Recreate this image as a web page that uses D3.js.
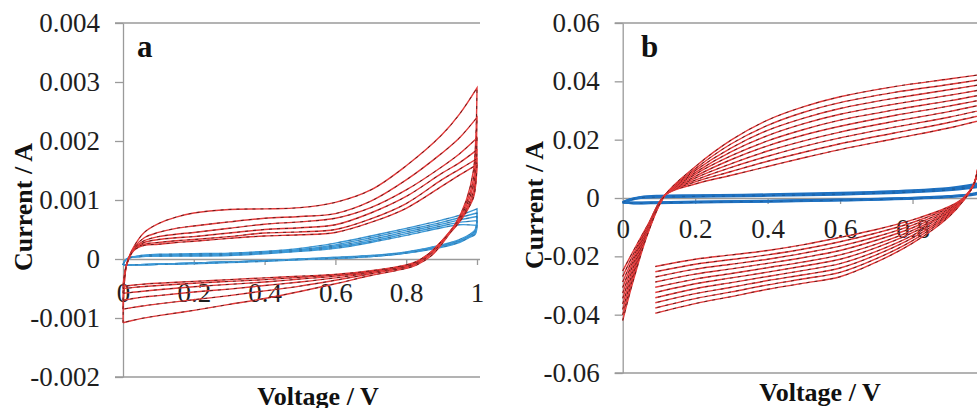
<!DOCTYPE html>
<html><head><meta charset="utf-8">
<script src="https://cdn.jsdelivr.net/npm/d3@7"></script>
<style>body{margin:0;background:#fff;overflow:hidden}</style>
</head><body><svg id="c" width="977" height="408"></svg>
<script>
// ---------- Panel a (currents in mA) ----------
const aYTicks = [-0.002, -0.001, 0, 0.001, 0.002, 0.003, 0.004];
const aYLabels = ["-0.002", "-0.001", "0", "0.001", "0.002", "0.003", "0.004"];
const aVoltFwd = [0, 0.01, 0.03, 0.06, 0.1, 0.15, 0.2, 0.3, 0.4, 0.5, 0.6, 0.7, 0.8, 0.9, 0.95, 1.0];
const aRedFwd = [
  [-1.08, -0.1, 0.2, 0.45, 0.6, 0.71, 0.78, 0.84, 0.85, 0.87, 0.96, 1.17, 1.58, 2.1, 2.45, 2.9],
  [-0.85, -0.1, 0.18, 0.36, 0.45, 0.52, 0.56, 0.63, 0.69, 0.72, 0.77, 0.98, 1.34, 1.79, 2.05, 2.4],
  [-0.70, -0.1, 0.17, 0.31, 0.38, 0.42, 0.45, 0.52, 0.59, 0.63, 0.69, 0.87, 1.17, 1.56, 1.78, 2.05],
  [-0.58, -0.1, 0.16, 0.28, 0.33, 0.36, 0.38, 0.44, 0.50, 0.53, 0.58, 0.78, 1.06, 1.45, 1.63, 1.85],
  [-0.50, -0.1, 0.15, 0.25, 0.28, 0.31, 0.33, 0.38, 0.44, 0.46, 0.50, 0.68, 0.94, 1.34, 1.52, 1.7],
  [-0.46, -0.1, 0.14, 0.23, 0.25, 0.28, 0.30, 0.35, 0.39, 0.41, 0.45, 0.62, 0.86, 1.23, 1.42, 1.6]
];
const aVoltRev = [1.0, 0.997, 0.99, 0.97, 0.94, 0.9, 0.87, 0.83, 0.8, 0.7, 0.6, 0.5, 0.4, 0.3, 0.2, 0.1, 0.05, 0.02, 0];
const aRedRev = [
  [2.9, 2.1, 1.5, 1.0, 0.6, 0.25, 0.05, -0.1, -0.16, -0.28, -0.42, -0.55, -0.67, -0.77, -0.87, -0.96, -1.01, -1.05, -1.08],
  [2.4, 1.8, 1.35, 0.95, 0.6, 0.28, 0.08, -0.08, -0.14, -0.25, -0.36, -0.46, -0.54, -0.62, -0.69, -0.76, -0.8, -0.83, -0.85],
  [2.05, 1.6, 1.25, 0.9, 0.6, 0.3, 0.1, -0.07, -0.13, -0.23, -0.32, -0.39, -0.45, -0.51, -0.56, -0.62, -0.65, -0.68, -0.70],
  [1.85, 1.45, 1.15, 0.85, 0.58, 0.3, 0.11, -0.06, -0.12, -0.22, -0.29, -0.34, -0.39, -0.43, -0.47, -0.52, -0.55, -0.57, -0.58],
  [1.7, 1.35, 1.08, 0.82, 0.56, 0.3, 0.12, -0.05, -0.11, -0.21, -0.27, -0.31, -0.35, -0.38, -0.41, -0.45, -0.47, -0.49, -0.50],
  [1.6, 1.3, 1.04, 0.8, 0.55, 0.3, 0.12, -0.04, -0.1, -0.2, -0.26, -0.29, -0.32, -0.35, -0.38, -0.41, -0.43, -0.45, -0.46]
];
const aBlueVoltFwd = [0, 0.01, 0.05, 0.1, 0.2, 0.3, 0.4, 0.5, 0.6, 0.7, 0.8, 0.9, 0.95, 1.0];
const aBlueFwd = [
  [-0.1, 0.0, 0.06, 0.08, 0.09, 0.1, 0.13, 0.18, 0.27, 0.39, 0.52, 0.66, 0.74, 0.85],
  [-0.1, 0.0, 0.05, 0.07, 0.08, 0.09, 0.12, 0.16, 0.24, 0.36, 0.49, 0.62, 0.70, 0.78],
  [-0.1, 0.0, 0.05, 0.06, 0.07, 0.08, 0.11, 0.15, 0.22, 0.33, 0.46, 0.59, 0.66, 0.72],
  [-0.1, 0.0, 0.04, 0.05, 0.06, 0.07, 0.10, 0.14, 0.20, 0.30, 0.43, 0.56, 0.62, 0.65],
  [-0.1, 0.0, 0.04, 0.05, 0.05, 0.06, 0.09, 0.13, 0.18, 0.28, 0.40, 0.53, 0.58, 0.57]
];
const aBlueVoltRev = [1.0, 0.995, 0.98, 0.95, 0.9, 0.8, 0.7, 0.6, 0.5, 0.4, 0.3, 0.2, 0.1, 0.02, 0];
const aBlueRev = [
  [0.85, 0.5, 0.42, 0.33, 0.24, 0.12, 0.06, 0.03, 0.0, -0.03, -0.05, -0.07, -0.09, -0.1, -0.1],
  [0.78, 0.48, 0.4, 0.31, 0.23, 0.11, 0.05, 0.02, 0.0, -0.03, -0.05, -0.07, -0.09, -0.1, -0.1],
  [0.72, 0.46, 0.39, 0.3, 0.22, 0.11, 0.05, 0.02, -0.01, -0.03, -0.05, -0.07, -0.09, -0.1, -0.1],
  [0.65, 0.44, 0.38, 0.29, 0.21, 0.1, 0.04, 0.01, -0.01, -0.03, -0.05, -0.07, -0.09, -0.1, -0.1],
  [0.57, 0.42, 0.37, 0.28, 0.2, 0.1, 0.04, 0.01, -0.01, -0.04, -0.06, -0.08, -0.09, -0.1, -0.1]
];

// ---------- Panel b (currents in mA) ----------
const bYTicks = [-0.06, -0.04, -0.02, 0, 0.02, 0.04, 0.06];
const bYLabels = ["-0.06", "-0.04", "-0.02", "0", "0.02", "0.04", "0.06"];
const bVoltFwd = [0, 0.03, 0.07, 0.117, 0.2, 0.3, 0.4, 0.5, 0.6, 0.75, 0.9, 1.0];
const bRedFwd = [
  [-25, -18, -9, 1, 4.8, 7.8, 10.8, 13.8, 16.6, 20.3, 24, 27],
  [-26.9, -19.1, -9.3, 1, 5.5, 9.1, 12.6, 15.7, 18.6, 22.3, 25.9, 28.7],
  [-28.8, -20.2, -9.7, 1, 6.1, 10.5, 14.3, 17.7, 20.6, 24.3, 27.7, 30.4],
  [-30.7, -21.3, -10, 1, 6.8, 11.8, 16.1, 19.6, 22.6, 26.3, 29.6, 32.2],
  [-32.6, -22.4, -10.3, 1, 7.4, 13.2, 17.9, 21.6, 24.6, 28.3, 31.5, 33.9],
  [-34.4, -23.6, -10.7, 1, 8.1, 14.5, 19.6, 23.5, 26.7, 30.2, 33.3, 35.6],
  [-36.3, -24.7, -11, 1, 8.7, 15.9, 21.4, 25.5, 28.7, 32.2, 35.2, 37.3],
  [-38.2, -25.8, -11.3, 1, 9.4, 17.2, 23.2, 27.4, 30.7, 34.2, 37.1, 39.1],
  [-40.1, -26.9, -11.7, 1, 10.0, 18.6, 24.9, 29.4, 32.7, 36.2, 38.9, 40.8],
  [-42, -28, -12, 1, 10.7, 19.9, 26.7, 31.3, 34.7, 38.2, 40.8, 42.5]
];
const bVoltRev = [1.0, 0.99, 0.97, 0.94, 0.9, 0.8, 0.7, 0.6, 0.5, 0.4, 0.3, 0.2, 0.09];
const bRedRev = [
  [27, 15, 5, 0, -3, -7.5, -10.8, -13.5, -16, -18, -19.5, -21, -23.5],
  [28.7, 15.6, 5, -0.1, -3.4, -8.4, -12.0, -15.0, -17.5, -19.5, -21.1, -22.7, -25.3],
  [30.4, 16.1, 5, -0.2, -3.8, -9.3, -13.3, -16.5, -18.9, -21.0, -22.7, -24.4, -27.1],
  [32.2, 16.7, 5, -0.3, -4.2, -10.2, -14.5, -18.0, -20.4, -22.4, -24.3, -26.1, -28.8],
  [33.9, 17.2, 5, -0.4, -4.6, -11.1, -15.8, -19.5, -21.9, -23.9, -25.9, -27.8, -30.6],
  [35.6, 17.8, 5, -0.6, -4.9, -11.9, -17.0, -21.0, -23.3, -25.4, -27.4, -29.4, -32.4],
  [37.3, 18.3, 5, -0.7, -5.3, -12.8, -18.3, -22.5, -24.8, -26.9, -29.0, -31.1, -34.2],
  [39.1, 18.9, 5, -0.8, -5.7, -13.7, -19.5, -24.0, -26.3, -28.3, -30.6, -32.8, -35.9],
  [40.8, 19.4, 5, -0.9, -6.1, -14.6, -20.8, -25.5, -27.7, -29.8, -32.2, -34.5, -37.7],
  [42.5, 20, 5, -1, -6.5, -15.5, -22, -27, -29.2, -31.3, -33.8, -36.2, -39.5]
];
const bBlueVoltFwd = [0, 0.02, 0.05, 0.1, 0.2, 0.4, 0.6, 0.8, 0.9, 0.95, 1.0];
const bBlueFwd = [
  [-1.5, -0.5, 0.3, 0.7, 0.9, 1.2, 1.7, 2.6, 3.4, 4.2, 5.5],
  [-1.5, -0.6, 0.2, 0.5, 0.7, 1.0, 1.5, 2.3, 3.1, 3.8, 4.8],
  [-1.5, -0.7, 0.1, 0.3, 0.5, 0.8, 1.2, 2.0, 2.7, 3.3, 4.2]
];
const bBlueVoltRev = [1.0, 0.99, 0.97, 0.9, 0.8, 0.6, 0.4, 0.2, 0.1, 0.03, 0];
const bBlueRev = [
  [5.5, 2.5, 1.5, 0.6, 0.0, -0.6, -1.0, -1.3, -1.5, -1.6, -1.5],
  [4.8, 2.3, 1.4, 0.5, -0.1, -0.7, -1.1, -1.4, -1.6, -1.7, -1.5],
  [4.2, 2.0, 1.2, 0.4, -0.2, -0.8, -1.2, -1.5, -1.7, -1.8, -1.5]
];

const xTicks = [0, 0.2, 0.4, 0.6, 0.8, 1];
const xLabels = ["0", "0.2", "0.4", "0.6", "0.8", "1"];

const SERIF = "'Liberation Serif','Times New Roman',serif";
const svg = d3.select("#c");

function loop(vf, f, vr, r) {
  const pts = vf.map((v, i) => [v, f[i] / 1000]);
  return pts.concat(vr.map((v, i) => [v, r[i] / 1000]));
}

function panel(cfg) {
  const x = d3.scaleLinear().domain([0, 1]).range(cfg.xr);
  const y = d3.scaleLinear().domain(cfg.yd).range(cfg.yr);
  const g = svg.append("g");
  const axisColor = "#9a9a9a";

  // frame lines (top & bottom)
  [cfg.yd[0], cfg.yd[1]].forEach(v => {
    g.append("line").attr("x1", cfg.xr[0] - 8).attr("x2", cfg.right)
      .attr("y1", y(v)).attr("y2", y(v)).attr("stroke", axisColor).attr("stroke-width", 1.3);
  });

  const yAxis = g.append("g").attr("transform", `translate(${cfg.xr[0]},0)`)
    .call(d3.axisLeft(y).tickValues(cfg.yTicks).tickFormat((d, i) => cfg.yLabels[i])
      .tickSize(8).tickSizeOuter(0).tickPadding(cfg.yPad));
  yAxis.selectAll("path,line").attr("stroke", axisColor).attr("stroke-width", 1.3);
  yAxis.selectAll("text").attr("font-family", SERIF).attr("font-size", 27).attr("fill", "#1e1e1e");

  const xAxis = g.append("g").attr("transform", `translate(0,${y(0)})`)
    .call(d3.axisBottom(x).tickValues(xTicks).tickFormat((d, i) => xLabels[i])
      .tickSize(6).tickSizeOuter(0).tickPadding(cfg.xPad));
  xAxis.select(".domain").attr("d", `M${cfg.xr[0]},0.5H${cfg.right}`);
  xAxis.selectAll("path,line").attr("stroke", axisColor).attr("stroke-width", 1.3);
  xAxis.selectAll(".tick").filter(d => d === 0).select("line").remove();
  xAxis.selectAll("text").attr("font-family", SERIF).attr("font-size", 27).attr("fill", "#1e1e1e");

  const line = d3.line().x(d => x(d[0])).y(d => y(d[1])).curve(d3.curveCatmullRom.alpha(0.5));

  const blue = cfg.blueF.map((f, i) => loop(cfg.blueVF, f, cfg.blueVR, cfg.blueR[i]));
  const red = cfg.redF.map((f, i) => loop(cfg.redVF, f, cfg.redVR, cfg.redR[i]));

  const gc = g.append("g").attr("fill", "none");
  blue.forEach(p => {
    gc.append("path").attr("d", line(p)).attr("stroke", cfg.blueColor).attr("stroke-width", cfg.blueW);
    gc.append("path").attr("d", line(p)).attr("stroke", "#1a3550").attr("stroke-width", 0.7)
      .attr("stroke-dasharray", "3,7").attr("opacity", 0.5);
  });
  red.forEach(p => {
    gc.append("path").attr("d", line(p)).attr("stroke", "#e23a3a").attr("stroke-width", 1.4);
    gc.append("path").attr("d", line(p)).attr("stroke", "#2a0a0a").attr("stroke-width", 0.9)
      .attr("stroke-dasharray", "3,5").attr("opacity", 0.75);
  });

  // labels
  g.append("text").attr("x", cfg.letterX).attr("y", 57).text(cfg.letter)
    .attr("font-family", SERIF).attr("font-weight", "bold").attr("font-size", 31).attr("fill", "#111");
  g.append("text").attr("transform", `translate(${cfg.ytX},${cfg.ytY}) rotate(-90)`)
    .attr("text-anchor", "middle").text("Current / A")
    .attr("font-family", SERIF).attr("font-weight", "bold").attr("font-size", 26).attr("fill", "#111");
  g.append("text").attr("x", cfg.xtX).attr("y", cfg.xtY).attr("text-anchor", "middle").text("Voltage / V")
    .attr("font-family", SERIF).attr("font-weight", "bold").attr("font-size", 26).attr("fill", "#111");
}

panel({
  xr: [123, 477], right: 480, yd: [-0.002, 0.004], yr: [377, 23],
  yTicks: aYTicks, yLabels: aYLabels, yPad: 15, xPad: 18,
  redVF: aVoltFwd, redF: aRedFwd, redVR: aVoltRev, redR: aRedRev,
  blueVF: aBlueVoltFwd, blueF: aBlueFwd, blueVR: aBlueVoltRev, blueR: aBlueRev,
  blueColor: "#3d9ad8", blueW: 1.4,
  letter: "a", letterX: 137, ytX: 32, ytY: 207, xtX: 318, xtY: 405
});
panel({
  xr: [622.7, 985], right: 1000, yd: [-0.06, 0.06], yr: [373, 23],
  yTicks: bYTicks, yLabels: bYLabels, yPad: 15, xPad: 15,
  redVF: bVoltFwd, redF: bRedFwd, redVR: bVoltRev, redR: bRedRev,
  blueVF: bBlueVoltFwd, blueF: bBlueFwd, blueVR: bBlueVoltRev, blueR: bBlueRev,
  blueColor: "#1f72c2", blueW: 2.4,
  letter: "b", letterX: 641, ytX: 543, ytY: 205, xtX: 820, xtY: 401
});
</script></body></html>
